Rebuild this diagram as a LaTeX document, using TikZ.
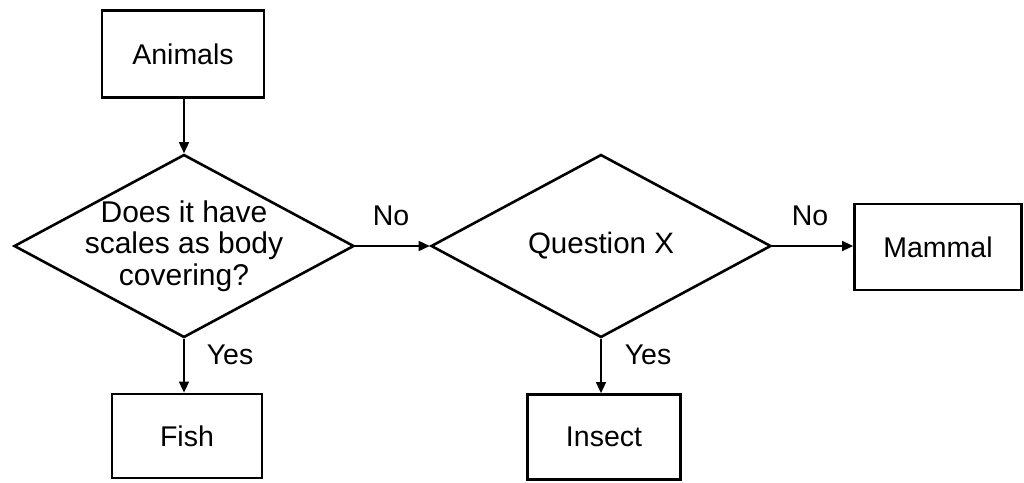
\documentclass[tikz,border=0pt]{standalone}
\usepackage{fontspec}
\setmainfont{Liberation Sans}
\usetikzlibrary{shapes.geometric,arrows.meta}
\begin{document}
\begin{tikzpicture}[x=1pt,y=-1pt,
  every node/.style={font=\fontsize{28.5}{32}\selectfont},
  box/.style={draw, line width=2.8pt, rectangle, inner sep=0pt},
  decision/.style={draw, line width=2.6pt, diamond, inner sep=0pt, minimum width=340pt, minimum height=183pt},
  conn/.style={line width=1.6pt, -{Triangle[length=11pt,width=10pt]}},
  lab/.style={inner sep=0pt}]
\useasboundingbox (0,0) rectangle (1024,482);
\node[box, minimum width=162pt, minimum height=87pt] (animals) at (183,54) {Animals};
\node[decision, label={[align=center, font=\fontsize{30}{31.5}\selectfont]center:Does it have\\scales as body\\covering?}] (d1) at (184,246) {};
\node[decision] (d2) at (601,246) {};
\node[font=\fontsize{29.5}{32}\selectfont] (qx) at (601,246) {Question X};
\node[box, minimum width=150pt, minimum height=84pt] (fish) at (187,436) {Fish};
\node[box, minimum width=153pt, minimum height=85pt] (insect) at (604,437) {Insect};
\node[box, minimum width=167pt, minimum height=86pt] (mammal) at (938,247) {Mammal};
\draw[conn] (animals.south -| d1.north) -- (d1.north);
\draw[conn] (d1.south) -- (d1.south |- fish.north);
\draw[conn] (d1.east) -- (d2.west);
\draw[conn] (d2.south) -- (d2.south |- insect.north);
\draw[conn] (d2.east) -- (d2.east -| mammal.west);
\node[lab] (no1) at (391,216) {No};
\node[lab] (no2) at (810,216) {No};
\node[lab] (yes1) at (230,355) {Yes};
\node[lab] (yes2) at (648,355) {Yes};
\end{tikzpicture}
\end{document}
